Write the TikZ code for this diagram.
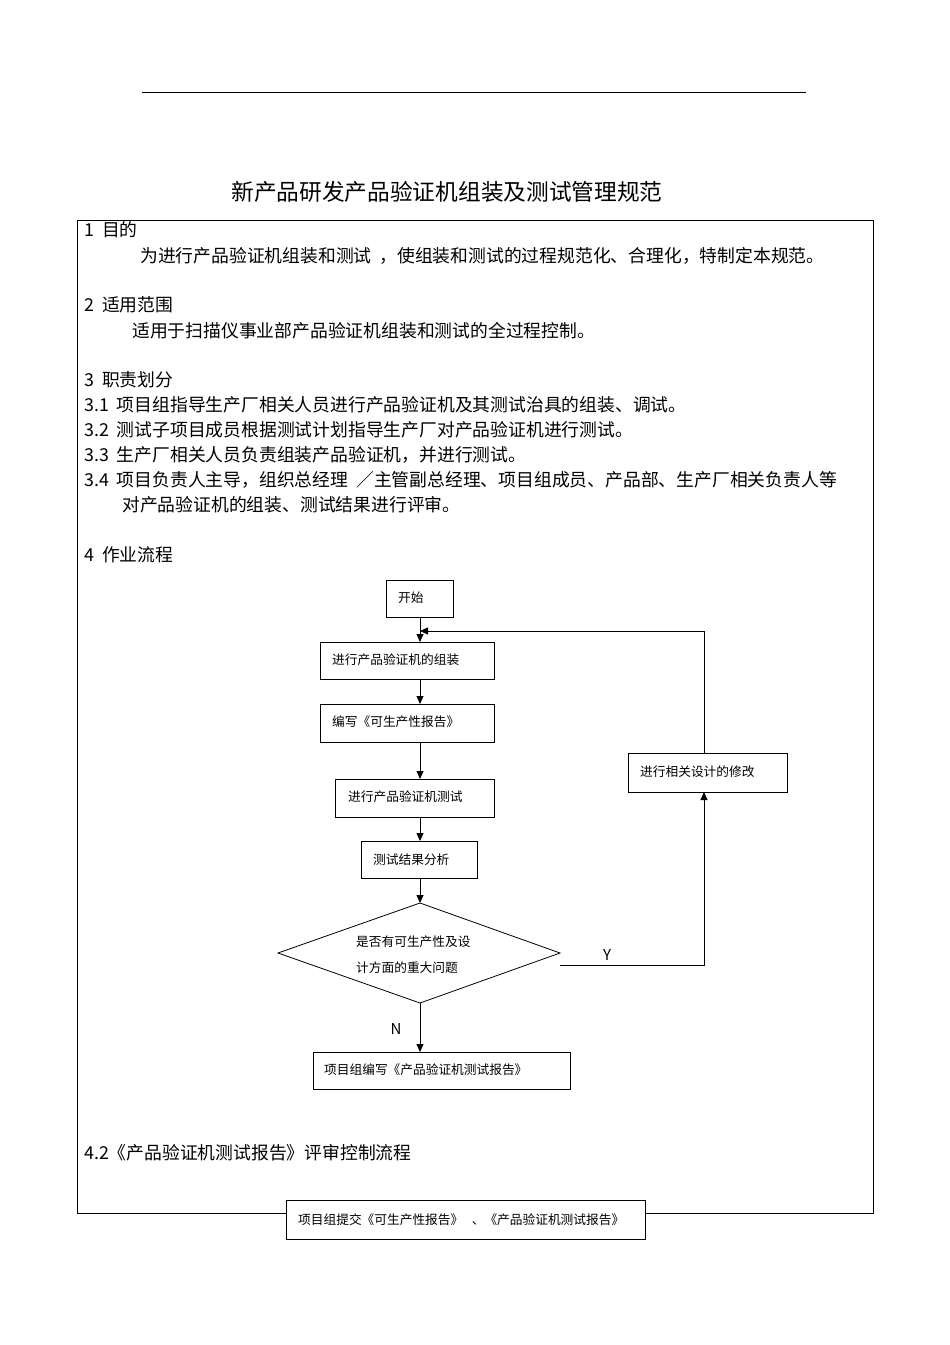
\documentclass[tikz,border=0pt]{standalone}
\usepackage{fontspec}
\setmainfont{Noto Sans CJK SC}
\usetikzlibrary{shapes.geometric,arrows.meta}
\begin{document}
\begin{tikzpicture}[x=1pt,y=-1pt,
  txt/.style={anchor=west,inner sep=0pt,font=\fontsize{17.8}{20}\selectfont},
  box/.style={draw,thick,fill=white,inner sep=0pt},
  bl/.style={anchor=west,inner sep=0pt,font=\fontsize{12.7}{15}\selectfont},
  arr/.style={thick,-{Triangle[length=8pt,width=7pt]}}]
\useasboundingbox (0,0) rectangle (950,1345);
\draw (142,92) -- (806,92);
\node[inner sep=0pt,font=\fontsize{22.7}{25}\selectfont] (title) at (447,192) {新产品研发产品验证机组装及测试管理规范};
\draw[thick] (77,1213) -- (77,220) -- (873,220) -- (873,1213) -- cycle;
\node[txt] (t1) at (84,230) {1\ \ 目的};
\node[txt] (t1a) at (140,256) {为进行产品验证机组装和测试\ \ ，使组装和测试的过程规范化、合理化，特制定本规范。};
\node[txt] (t2) at (84,305) {2\ \ 适用范围};
\node[txt] (t2a) at (132,331) {适用于扫描仪事业部产品验证机组装和测试的全过程控制。};
\node[txt] (t3) at (84,380) {3\ \ 职责划分};
\node[txt] (t31) at (84,405) {3.1\ \ 项目组指导生产厂相关人员进行产品验证机及其测试治具的组装、调试。};
\node[txt] (t32) at (84,430) {3.2\ \ 测试子项目成员根据测试计划指导生产厂对产品验证机进行测试。};
\node[txt] (t33) at (84,455) {3.3\ \ 生产厂相关人员负责组装产品验证机，并进行测试。};
\node[txt] (t34) at (84,480) {3.4\ \ 项目负责人主导，组织总经理\ \ ／主管副总经理、项目组成员、产品部、生产厂相关负责人等};
\node[txt] (t34b) at (122,505) {对产品验证机的组装、测试结果进行评审。};
\node[txt] (t4) at (84,555) {4\ \ 作业流程};
\node[txt] (t42) at (84,1153) {4.2《产品验证机测试报告》评审控制流程};
% flowchart boxes
\draw[box] (386,580) rectangle (453,617); \node[bl] (start) at (398,598) {开始};
\draw[box] (320,642) rectangle (494,679); \node[bl] (b1) at (332,660) {进行产品验证机的组装};
\draw[box] (320,704) rectangle (494,742); \node[bl] (b2) at (332,722) {编写《可生产性报告》};
\draw[box] (335,779) rectangle (494,817); \node[bl] (b3) at (348,797) {进行产品验证机测试};
\draw[box] (361,841) rectangle (477,878); \node[bl] (b4) at (373,860) {测试结果分析};
\draw[thick,fill=white] (278,953) -- (420,903) -- (560,953) -- (420,1003) -- cycle;
\node[bl] (d1) at (356,942) {是否有可生产性及设};
\node[bl] (d2) at (356,968) {计方面的重大问题};
\draw[box] (313,1052) rectangle (570,1089); \node[bl] (b5) at (324,1070) {项目组编写《产品验证机测试报告》};
\draw[box] (628,753) rectangle (787,792); \node[bl] (b6) at (640,772) {进行相关设计的修改};
\draw[box] (286,1200) rectangle (645,1239); \node[bl] (b7) at (298,1220) {项目组提交《可生产性报告》\ \ \ 、《产品验证机测试报告》};
% connectors
\coordinate (a0) at (420,617); \coordinate (a1) at (420,642);
\coordinate (a2) at (420,679); \coordinate (a3) at (420,704);
\coordinate (a4) at (420,742); \coordinate (a5) at (420,779);
\coordinate (a6) at (420,817); \coordinate (a7) at (420,841);
\coordinate (a8) at (420,878); \coordinate (a9) at (420,903);
\coordinate (a10) at (420,1003); \coordinate (a11) at (420,1052);
\coordinate (m1) at (704,753); \coordinate (m2) at (704,792);
\coordinate (loop) at (420,631); \coordinate (dr) at (560,965);
\draw[arr] (a0) -- (a1);
\draw[arr] (a2) -- (a3);
\draw[arr] (a4) -- (a5);
\draw[arr] (a6) -- (a7);
\draw[arr] (a8) -- (a9);
\draw[arr] (a10) -- (a11);
\draw[arr] (m1) |- (loop);
\draw[arr] (dr) -| (m2);
\node[inner sep=0pt,font=\fontsize{15}{17}\selectfont] (Y) at (607,955) {Y};
\node[inner sep=0pt,font=\fontsize{15}{17}\selectfont] (N) at (396,1029) {N};
\end{tikzpicture}
\end{document}
